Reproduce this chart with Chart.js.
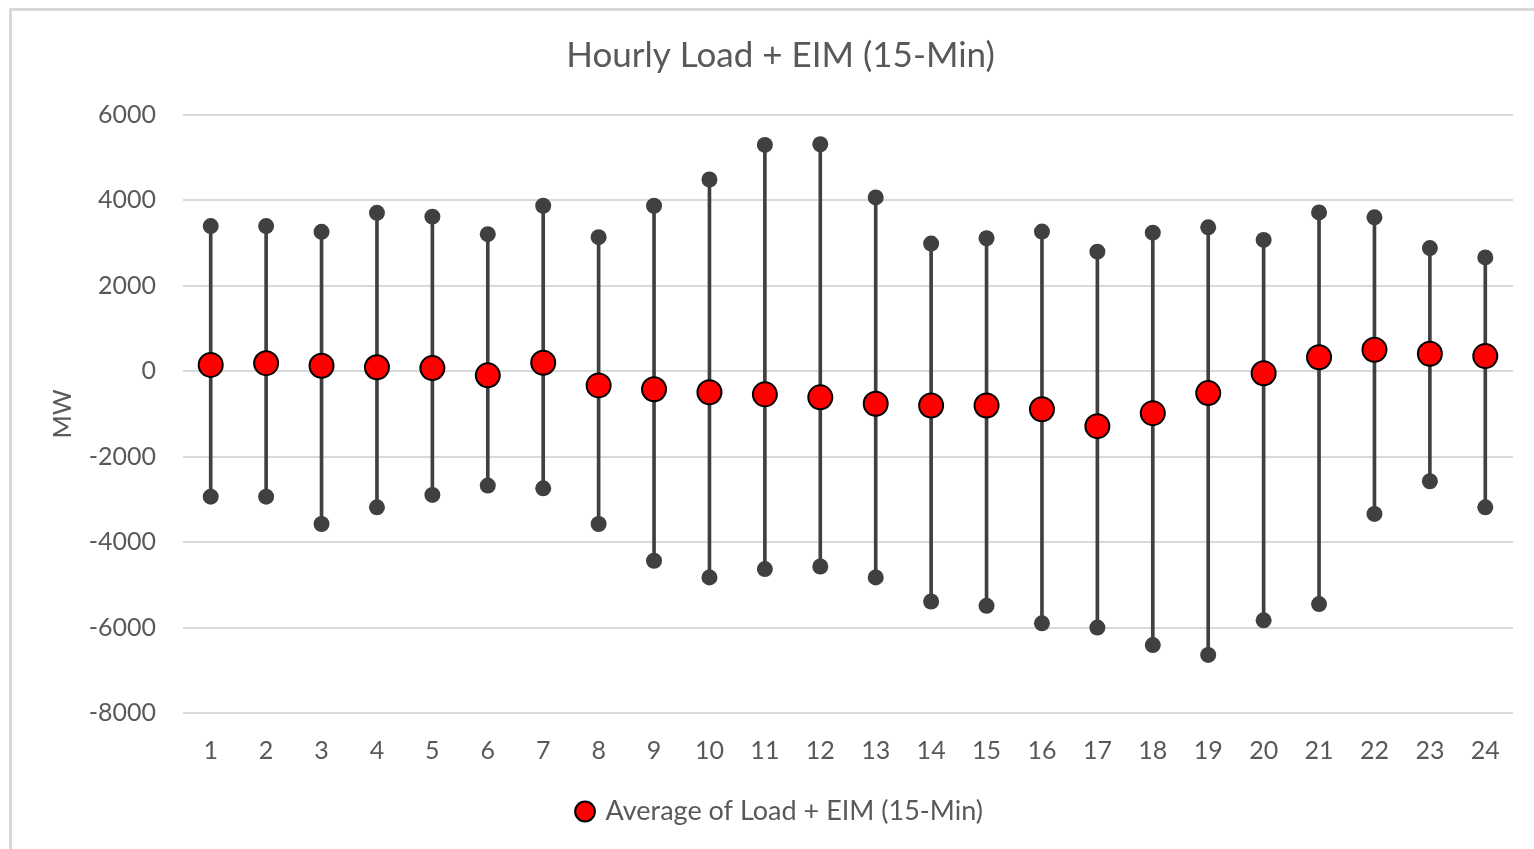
<!DOCTYPE html>
<html>
<head>
<meta charset="utf-8">
<title>Hourly Load + EIM (15-Min)</title>
<script src="https://cdn.jsdelivr.net/npm/chart.js@4/dist/chart.umd.min.js"></script>
<style>
  html, body { margin: 0; padding: 0; background: #ffffff; overflow: hidden; }
  #wrap { position: relative; width: 1534px; height: 849px; }
  #frame {
    position: absolute; left: 9px; top: 8px; width: 1600px; height: 900px;
    border-left: 3px solid #d9d9d9; border-top: 3px solid #d9d9d9;
    pointer-events: none;
  }
  canvas { position: absolute; left: 0; top: 0; }
</style>
</head>
<body>
<div id="wrap">
  <canvas id="chart" width="1534" height="849"></canvas>
  <div id="frame"></div>
</div>
<script>
// Hours of the day (x categories)
const hours = ['1','2','3','4','5','6','7','8','9','10','11','12',
               '13','14','15','16','17','18','19','20','21','22','23','24'];

// Hourly maximum of Load + EIM (MW)
const maxValues = [3400, 3400, 3265, 3710, 3620, 3210, 3875, 3140, 3875, 4490, 5300, 5315,
                   4070, 2990, 3115, 3270, 2800, 3245, 3370, 3075, 3720, 3605, 2885, 2665];

// Hourly minimum of Load + EIM (MW)
const minValues = [-2935, -2935, -3575, -3185, -2895, -2675, -2740, -3575, -4435, -4825, -4630, -4570,
                   -4825, -5390, -5490, -5900, -6000, -6410, -6640, -5830, -5450, -3340, -2575, -3185];

// Hourly average of Load + EIM (MW)
const avgValues = [150, 190, 130, 95, 75, -95, 200, -330, -420, -490, -540, -610,
                   -760, -800, -800, -890, -1285, -980, -510, -45, 330, 505, 410, 355];

// Y axis range and tick step
const yMin = -8000;
const yMax = 6000;
const yStep = 2000;

const FONT = 'Lato';
const TEXT = '#595959';
const DARK = '#404040';

// min..max range as floating bars (the whiskers)
const ranges = minValues.map((lo, i) => [lo, maxValues[i]]);

new Chart(document.getElementById('chart'), {
  type: 'bar',
  data: {
    labels: hours,
    datasets: [
      {
        type: 'line',
        label: 'Average of Load + EIM (15-Min)',
        data: avgValues,
        showLine: false,
        pointStyle: 'circle',
        pointRadius: 12,
        pointHoverRadius: 12,
        pointBackgroundColor: '#ff0000',
        pointBorderColor: '#000000',
        pointBorderWidth: 2,
        backgroundColor: '#ff0000',
        borderColor: '#000000',
        borderWidth: 2,
        order: 0
      },
      {
        type: 'line',
        label: 'Max',
        data: maxValues,
        showLine: false,
        pointRadius: 8,
        pointHoverRadius: 8,
        pointBackgroundColor: DARK,
        pointBorderWidth: 0,
        order: 1
      },
      {
        type: 'line',
        label: 'Min',
        data: minValues,
        showLine: false,
        pointRadius: 8,
        pointHoverRadius: 8,
        pointBackgroundColor: DARK,
        pointBorderWidth: 0,
        order: 1
      },
      {
        type: 'bar',
        label: 'Range',
        data: ranges,
        backgroundColor: DARK,
        borderWidth: 0,
        barThickness: 3,
        order: 2
      }
    ]
  },
  options: {
    responsive: false,
    animation: false,
    layout: { padding: { left: 48, right: 21, top: 0, bottom: 14 } },
    plugins: {
      tooltip: { enabled: false },
      title: {
        display: true,
        text: 'Hourly Load + EIM (15-Min)',
        color: TEXT,
        font: { family: FONT, size: 35, weight: 'normal' },
        padding: { top: 35, bottom: 38 }
      },
      legend: {
        position: 'bottom',
        labels: {
          filter: item => item.datasetIndex === 0,
          usePointStyle: true,
          pointStyle: 'circle',
          boxWidth: 14,
          boxHeight: 14,
          color: TEXT,
          font: { family: FONT, size: 27 },
          padding: 18
        }
      }
    },
    scales: {
      x: {
        offset: true,
        grid: { display: false },
        border: { display: false },
        ticks: {
          color: TEXT,
          font: { family: FONT, size: 25 },
          padding: 15,
          maxRotation: 0,
          autoSkip: false
        },
        afterFit: s => { s.height = 67; }
      },
      y: {
        min: yMin,
        max: yMax,
        border: { display: false },
        grid: { color: '#d9d9d9', lineWidth: 2, drawTicks: false },
        ticks: {
          stepSize: yStep,
          color: TEXT,
          font: { family: FONT, size: 25 },
          padding: 27,
          callback: v => String(v)
        },
        title: {
          display: true,
          text: 'MW',
          color: TEXT,
          font: { family: FONT, size: 25 },
          padding: 0
        },
        afterFit: s => { s.width = 135; }
      }
    }
  }
});
</script>
</body>
</html>
